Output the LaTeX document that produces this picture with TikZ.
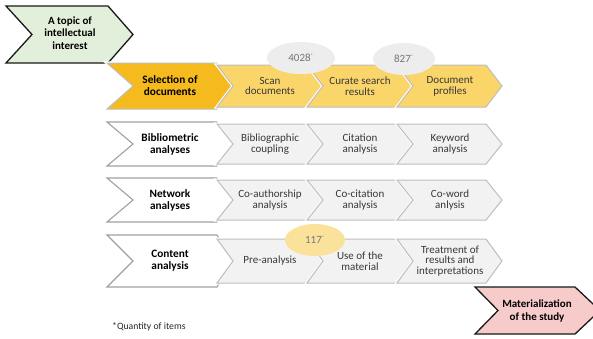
\documentclass[tikz,border=0pt]{standalone}
\usepackage{fontspec}
\setmainfont{Carlito}
\definecolor{selgold}{RGB}{245,186,30}
\definecolor{selitem}{RGB}{250,213,105}
\definecolor{countyel}{RGB}{251,226,155}
\definecolor{countgray}{RGB}{237,237,237}
\definecolor{itemfill}{RGB}{242,242,242}
\definecolor{itemline}{RGB}{190,190,190}
\definecolor{headline}{RGB}{160,160,160}
\definecolor{startgreen}{RGB}{226,239,218}
\definecolor{endpink}{RGB}{248,203,203}
\definecolor{edgedark}{RGB}{25,25,25}
\definecolor{counttext}{RGB}{118,118,118}
% chevron outline: style, left x, top-right x, top y, bottom y, notch depth, tip depth
\newcommand{\chevpath}[7]{%
  \path[#1] (#2,#4) -- (#3,#4) -- ({#3+#7},{(#4+#5)/2}) -- (#3,#5)
    -- (#2,#5) -- ({#2+#6},{(#4+#5)/2}) -- cycle;}
\tikzset{
  gapline/.style={preaction={draw=white,line width=3.2pt,line join=miter}},
  headbox/.style={gapline,fill=white,draw=headline,line width=1.1pt},
  selbox/.style={gapline,fill=selgold,draw=itemline,line width=1pt},
  selitembox/.style={gapline,fill=selitem,draw=itemline,line width=1pt},
  itembox/.style={gapline,fill=itemfill,draw=itemline,line width=1pt},
  endbox/.style={draw=edgedark,line width=1.3pt},
  headtext/.style={font=\fontsize{11.3}{12}\selectfont\bfseries,align=center,inner sep=0pt},
  endtext/.style={font=\fontsize{11}{12.6}\selectfont\bfseries,align=center,inner sep=0pt},
  itemtext/.style={font=\fontsize{11}{10.8}\selectfont,text=black!78,align=center,inner sep=0pt},
  countbubble/.style={ellipse,minimum width=#1,minimum height=32pt,inner sep=0pt,
    font=\fontsize{11}{12}\selectfont,text=counttext},
}
\usetikzlibrary{shapes.geometric}
\begin{document}
\begin{tikzpicture}[x=1pt,y=-1pt]
\useasboundingbox (0,0) rectangle (593,338);
\clip (0,0) rectangle (593,338);

% start and end markers
\chevpath{endbox,fill=startgreen}{6}{108}{6}{63}{26}{25}
\node[endtext] (start) at (70,33) {A topic of\\intellectual\\interest};
\chevpath{endbox,fill=endpink}{475}{575}{287}{334}{23}{25}
\node[endtext] (finish) at (537,311) {Materialization\\of the study};

% row 1: selection of documents
\chevpath{selbox}{107}{217}{63}{109}{26}{16}
\node[headtext] (sel) at (170,86) {Selection of\\documents};
\chevpath{selitembox}{217}{306}{65}{107}{16}{16}
\node[itemtext] (scan) at (270,86) {Scan\\documents};
\chevpath{selitembox}{307}{396}{65}{107}{16}{16}
\node[itemtext] (curate) at (360,86) {Curate search\\results};
\chevpath{selitembox}{397}{486}{65}{107}{16}{16}
\node[itemtext] (profiles) at (450,86) {Document\\profiles};

% row 2: bibliometric analyses
\chevpath{headbox}{107}{217}{122}{166}{26}{16}
\node[headtext] (biblio) at (170,144) {Bibliometric\\analyses};
\chevpath{itembox}{217}{306}{124}{164}{16}{16}
\node[itemtext] (coupling) at (270,144) {Bibliographic\\coupling};
\chevpath{itembox}{307}{396}{124}{164}{16}{16}
\node[itemtext] (citation) at (360,144) {Citation\\analysis};
\chevpath{itembox}{397}{486}{124}{164}{16}{16}
\node[itemtext] (keyword) at (450,144) {Keyword\\analysis};

% row 3: network analyses
\chevpath{headbox}{107}{217}{178}{222}{26}{16}
\node[headtext] (network) at (170,200) {Network\\analyses};
\chevpath{itembox}{217}{306}{180}{220}{16}{16}
\node[itemtext] (coauth) at (270,200) {Co-authorship\\analysis};
\chevpath{itembox}{307}{396}{180}{220}{16}{16}
\node[itemtext] (cocit) at (360,200) {Co-citation\\analysis};
\chevpath{itembox}{397}{486}{180}{220}{16}{16}
\node[itemtext] (coword) at (450,200) {Co-word\\anlysis};

% row 4: content analysis
\chevpath{headbox}{107}{217}{235}{287}{26}{16}
\node[headtext] (content) at (170,261) {Content\\analysis};
\chevpath{itembox}{217}{306}{239}{283}{16}{16}
\node[itemtext] (pre) at (270,261) {Pre-analysis};
\chevpath{itembox}{307}{396}{239}{283}{16}{16}
\node[itemtext] (use) at (360,261) {Use of the\\material};
\chevpath{itembox}{397}{486}{239}{283}{16}{16}
\node[itemtext] (treat) at (450,261) {Treatment of\\results and\\interpretations};

% item counts
\node[countbubble=68pt,fill=countgray] (n4028) at (301,58) {4028\textsuperscript{\tiny *}};
\node[countbubble=62pt,fill=countgray] (n827) at (404,59) {827\textsuperscript{\tiny *}};
\node[countbubble=60pt,fill=countyel] (n117) at (315,240) {117\textsuperscript{\tiny *}};

% footnote
\node[anchor=west,inner sep=0pt,font=\fontsize{9.7}{11}\selectfont,text=black!85] (note) at (112,327) {*Quantity of items};
\end{tikzpicture}
\end{document}
